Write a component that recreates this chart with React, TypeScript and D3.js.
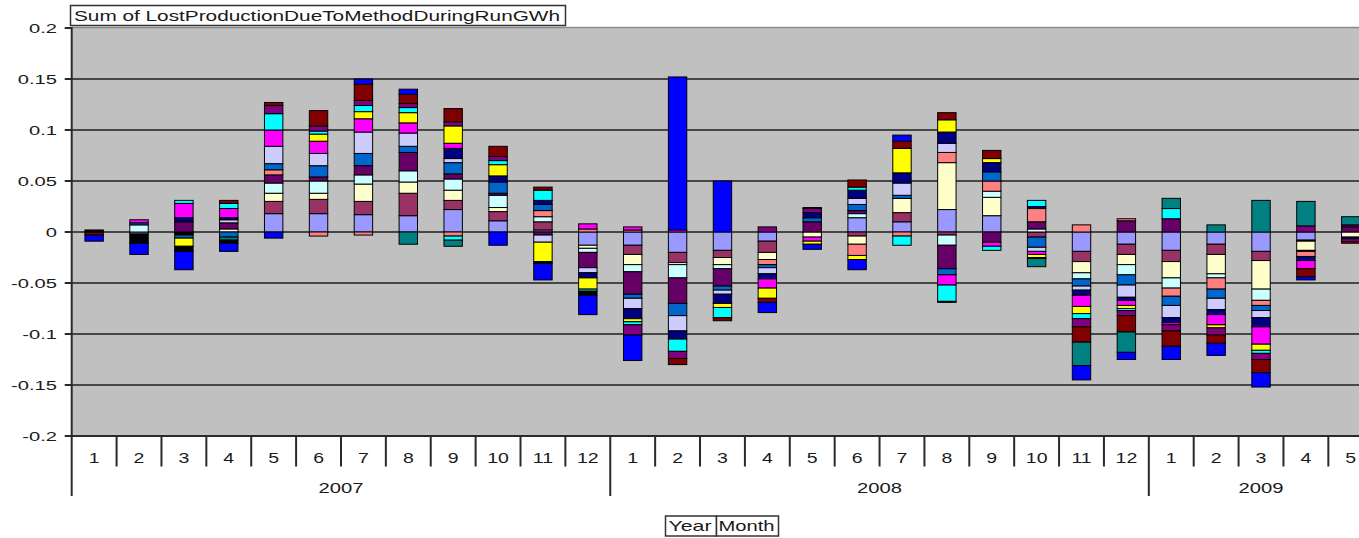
import * as React from "react";
import * as d3 from "d3";

// x categories (Year / Month)
const monthLabels = [
  "1", "2", "3", "4", "5", "6", "7", "8", "9", "10", "11", "12",
  "1", "2", "3", "4", "5", "6", "7", "8", "9", "10", "11", "12",
  "1", "2", "3", "4", "5",
];
const years = ["2007", "2008", "2009"];
const yearMonths = [12, 12, 5];

const yTicks = [-0.2, -0.15, -0.1, -0.05, 0, 0.05, 0.1, 0.15, 0.2];
const yTickLabels = ["-0.2", "-0.15", "-0.1", "-0.05", "0", "0.05", "0.1", "0.15", "0.2"];

const title = "Sum of LostProductionDueToMethodDuringRunGWh";

// series values, one per month (stack order = array order)
const s01 = [0, -0.002, -0.001, 0, 0.018, 0.018, 0.017, 0.016, 0.022, 0.011, 0.002, -0.013,
  -0.013, -0.02, -0.018, -0.009, 0, 0.014, 0.01, 0.022, 0.016, 0, -0.019, -0.012,
  -0.018, -0.012, -0.019, -0.008, 0];
const s02 = [0, 0, -0.001, 0, 0.012, 0.014, 0.013, 0.022, 0.009, 0.009, 0.008, 0,
  -0.009, -0.01, -0.007, -0.011, 0, -0.004, 0.009, -0.003, 0, -0.005, -0.01, -0.01,
  -0.011, -0.01, -0.009, -0.001, 0];
const s03 = [0, 0, 0, 0.003, 0.008, 0.006, 0.017, 0.011, 0.01, 0.004, 0, -0.003,
  -0.01, -0.002, -0.007, -0.007, -0.005, -0.008, 0.014, 0.046, 0.018, 0, -0.011, -0.01,
  -0.016, -0.019, -0.028, -0.009, -0.005];
const s04 = [0, 0.007, 0, 0, 0.01, 0.012, 0.009, 0.011, 0.011, 0.012, 0.005, -0.004,
  -0.007, -0.013, -0.004, 0, 0, 0.004, 0, -0.01, 0.006, 0.003, -0.006, -0.01,
  -0.01, -0.004, -0.011, 0, 0];
const s05 = [0, 0, 0.01, 0.006, 0.008, 0.004, 0.009, 0.018, 0.005, 0.002, -0.003, -0.015,
  -0.022, -0.025, -0.017, 0, 0.01, 0.003, 0, -0.023, -0.01, 0.007, 0, 0.011,
  0.013, 0, 0, -0.001, 0.005];
const s06 = [0, 0, -0.001, 0, 0.005, -0.004, -0.003, 0, -0.004, 0, 0.006, 0.003,
  0.002, 0, 0, -0.005, 0, -0.011, -0.004, 0.01, 0.01, 0.013, 0.007, 0.002,
  -0.008, -0.011, -0.005, -0.005, 0];
const s07 = [0, 0.002, -0.003, -0.005, 0.006, 0.011, 0.012, 0.006, 0.011, 0.011, 0.006, 0,
  -0.004, -0.012, -0.004, -0.003, 0.004, 0.006, 0.003, -0.006, 0.009, -0.01, -0.007, -0.01,
  -0.009, -0.009, -0.005, 0, 0];
const s08 = [0, 0, 0, 0.003, 0.017, 0.012, 0.021, 0.013, 0.004, 0, -0.007, -0.005,
  -0.01, -0.015, -0.004, -0.006, 0, 0.006, 0.012, 0.009, 0, -0.004, -0.004, -0.012,
  -0.012, -0.011, -0.007, 0, 0];
const s09 = [0, 0, 0.004, 0.002, 0, 0, 0, 0, 0.01, 0.006, 0.004, -0.005,
  -0.01, -0.008, -0.009, -0.005, 0.005, 0.008, 0.01, 0.011, 0.009, 0.002, -0.005, -0.003,
  -0.005, -0.005, -0.009, -0.004, -0.002];
const s10 = [0, 0.003, 0.014, 0.009, 0.016, 0.012, 0.013, 0.01, 0.005, 0, 0, 0.005,
  0.003, 0.002, 0, -0.009, -0.004, 0, 0, -0.01, -0.004, -0.003, -0.011, -0.005,
  -0.002, -0.01, -0.017, -0.008, -0.002];
const s11 = [0, 0, -0.008, 0, 0, 0.007, 0.007, 0.01, 0.017, 0.011, -0.019, -0.011,
  -0.003, 0, -0.004, -0.01, -0.003, -0.004, 0.024, 0.012, 0.004, -0.003, -0.007, -0.003,
  0, -0.003, -0.006, 0, 0];
const s12 = [0, 0, 0.003, 0.005, 0.016, 0.003, 0.006, 0.005, -0.004, 0.004, 0.01, -0.002,
  -0.003, -0.012, -0.01, 0, 0, 0.003, -0.009, -0.016, -0.004, 0.006, -0.005, -0.002,
  0.01, 0, -0.003, 0, 0];
const s13 = [0, 0, 0, 0, 0.008, 0.005, 0.005, 0.004, 0.004, 0.004, 0, 0,
  -0.01, -0.007, 0, 0.005, 0.004, 0, 0, 0, 0, 0, -0.008, -0.005,
  -0.006, -0.007, -0.006, 0.006, 0.002];
const s14 = [-0.003, 0, 0, 0.003, 0.003, 0.015, 0.016, 0.009, 0.013, 0.01, 0.003, 0,
  0, -0.006, -0.003, -0.004, 0.001, 0.007, 0.007, 0.007, 0.008, -0.001, -0.015, -0.016,
  -0.015, -0.008, -0.013, -0.008, -0.002];
const s15 = [0, 0, 0, -0.003, 0, 0, 0, -0.012, -0.006, 0, 0, 0,
  0, 0, 0, 0, 0, 0, 0, 0, 0, -0.008, -0.023, -0.02,
  0.01, 0.007, 0.031, 0.024, 0.008];
const s16 = [0.002, -0.009, -0.005, -0.003, 0, 0, 0, 0, 0, 0, -0.002, -0.004,
  0, 0, 0, 0, 0, 0, 0, -0.001, 0, 0, 0, 0,
  0, 0, 0, 0, 0];
const s17 = [-0.006, -0.011, -0.018, -0.008, -0.006, 0, 0.005, 0.005, 0, -0.013, -0.016, -0.019,
  -0.025, 0.15, 0.05, -0.01, -0.005, -0.01, 0.006, 0, 0, 0, -0.014, -0.007,
  -0.013, -0.012, -0.014, -0.003, 0];

const seriesValues = [s01, s02, s03, s04, s05, s06, s07, s08, s09, s10, s11, s12, s13, s14, s15, s16, s17];
const seriesColors = [
  "#9999FF", "#993366", "#FFFFCC", "#CCFFFF", "#660066", "#FF8080", "#0066CC", "#CCCCFF",
  "#000080", "#FF00FF", "#FFFF00", "#00FFFF", "#800080", "#800000", "#008080", "#000000", "#0000FF",
];

const W = 1359;
const H = 538;
const left = 71.7;
const step = 44.88;
const top = 28;
const bottom = 436;
const font = "'Liberation Sans', Arial, sans-serif";

export default function App() {
  const keys = seriesValues.map((_, i) => "s" + i);
  const rows = monthLabels.map((m, i) => {
    const r: any = { idx: i };
    seriesValues.forEach((s, k) => (r["s" + k] = s[i]));
    return r;
  });
  const stacked = d3.stack<any>().keys(keys).offset(d3.stackOffsetDiverging)(rows);

  const x = d3
    .scaleBand<number>()
    .domain(monthLabels.map((_, i) => i))
    .range([left, left + step * monthLabels.length])
    .padding(0);
  const y = d3.scaleLinear().domain([-0.2, 0.2]).range([bottom, top]);
  const bw = x.bandwidth() * 0.41;

  // year boundaries
  let acc = 0;
  const yearSpans = years.map((yr, i) => {
    const start = acc;
    acc += yearMonths[i];
    return { yr, start, end: acc };
  });

  return (
    <svg width={W} height={H} style={{ position: "absolute", left: 0, top: 0, background: "#fff" }}>
      <rect x={left} y={top} width={W - left} height={bottom - top} fill="#C0C0C0" />
      <line x1={left} x2={W} y1={top - 0.5} y2={top - 0.5} stroke="#8a8a8a" strokeWidth={1.5} />

      {yTicks.filter((t) => t > -0.2 && t < 0.2).map((t) => (
        <line key={t} x1={left} x2={W} y1={y(t)} y2={y(t)} stroke="#1e1e1e" strokeWidth={1.6} />
      ))}

      {stacked.map((layer, k) =>
        layer.map((d, i) =>
          d[1] - d[0] === 0 ? null : (
            <rect
              key={k + "-" + i}
              x={(x(i) as number) + (x.bandwidth() - bw) / 2}
              y={y(d[1])}
              width={bw}
              height={y(d[0]) - y(d[1])}
              fill={seriesColors[k]}
              stroke="#000"
              strokeWidth={1}
            />
          )
        )
      )}

      {/* y axis */}
      <line x1={left} x2={left} y1={top - 1} y2={496} stroke="#2a2a2a" strokeWidth={2} />
      {yTicks.map((t, i) => (
        <g key={t}>
          <line x1={left - 7} x2={left} y1={y(t)} y2={y(t)} stroke="#2a2a2a" strokeWidth={2} />
          <text
            transform={`translate(57,${y(t) + 5}) scale(1.55,1)`}
            textAnchor="end"
            fontFamily={font}
            fontSize={13}
            fill="#1a1a1a"
          >
            {yTickLabels[i]}
          </text>
        </g>
      ))}

      {/* x axis */}
      <line x1={left} x2={W} y1={bottom} y2={bottom} stroke="#2a2a2a" strokeWidth={2} />
      {monthLabels.map((m, i) => (
        <g key={i}>
          {i > 0 && (
            <line
              x1={x(i) as number}
              x2={x(i) as number}
              y1={bottom}
              y2={yearSpans.some((s) => s.start === i) ? 496 : 466.5}
              stroke="#2a2a2a"
              strokeWidth={2}
            />
          )}
          <text
            transform={`translate(${(x(i) as number) + x.bandwidth() / 2},${463}) scale(1.3,1)`}
            textAnchor="middle"
            fontFamily={font}
            fontSize={15}
            fill="#1a1a1a"
          >
            {m}
          </text>
        </g>
      ))}
      {yearSpans.map((s) => (
        <text
          key={s.yr}
          transform={`translate(${((x(s.start) as number) + left + step * s.end) / 2},${493}) scale(1.35,1)`}
          textAnchor="middle"
          fontFamily={font}
          fontSize={15}
          fill="#1a1a1a"
        >
          {s.yr}
        </text>
      ))}

      {/* data field title */}
      <rect x={70.5} y={5.5} width={495} height={20} fill="#fff" stroke="#333" strokeWidth={1.5} />
      <text
        x={74}
        y={21}
        fontFamily={font}
        fontSize={15}
        fill="#1a1a1a"
        textLength={486}
        lengthAdjust="spacingAndGlyphs"
      >
        {title}
      </text>

      {/* field buttons */}
      <rect x={665.5} y={516} width={51} height={20} fill="#fff" stroke="#333" strokeWidth={1.5} />
      <rect x={716.5} y={516} width={62} height={20} fill="#fff" stroke="#333" strokeWidth={1.5} />
      <text x={668.5} y={531} fontFamily={font} fontSize={15} fill="#1a1a1a" textLength={43} lengthAdjust="spacingAndGlyphs">
        Year
      </text>
      <text x={718.5} y={531} fontFamily={font} fontSize={15} fill="#1a1a1a" textLength={56} lengthAdjust="spacingAndGlyphs">
        Month
      </text>
    </svg>
  );
}
